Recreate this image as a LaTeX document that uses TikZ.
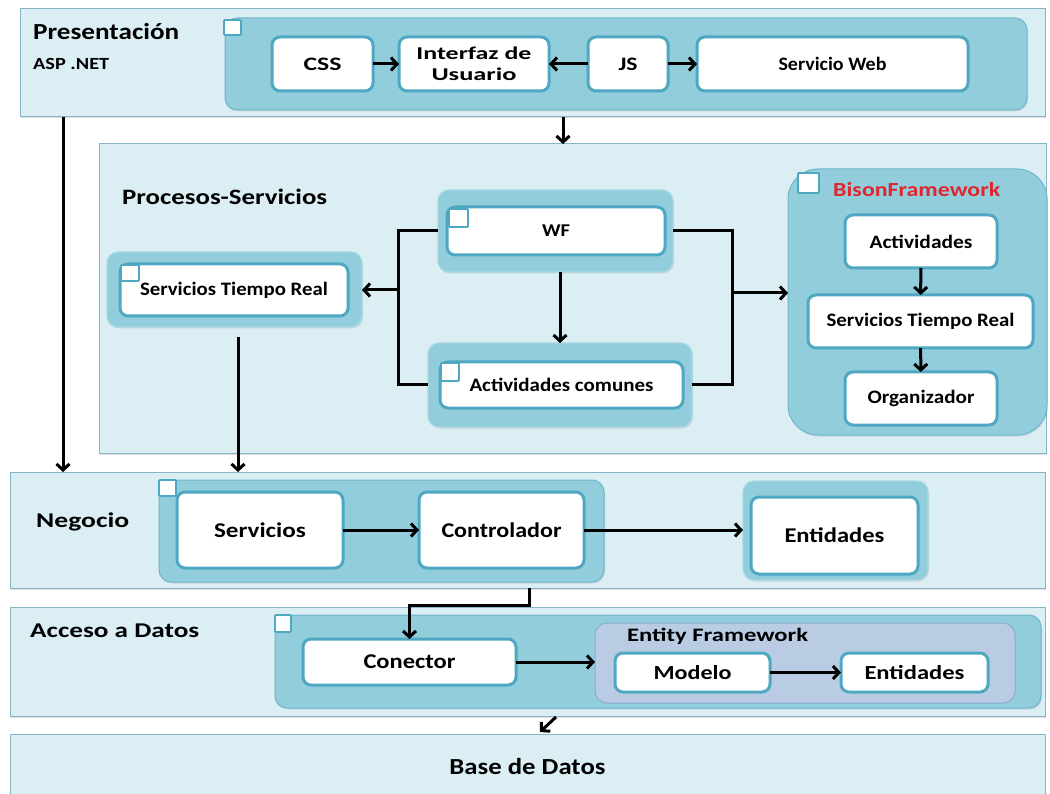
\documentclass[tikz,border=0pt]{standalone}
\usepackage{fontspec}
\setmainfont{Carlito}
\usetikzlibrary{arrows.meta,shadows,calc}

\definecolor{bandfill}{HTML}{DBEEF4}
\definecolor{bandline}{HTML}{86B5C6}
\definecolor{contfill}{HTML}{92CDDC}
\definecolor{contline}{HTML}{6DB6CB}
\definecolor{boxline}{HTML}{4FA8C2}
\definecolor{effill}{HTML}{B9CCE4}
\definecolor{efline}{HTML}{8EABD3}
\definecolor{bisonred}{HTML}{E0262F}

% bold text set at a given size and stretched to a given width
\newcommand\fw[3]{\resizebox{#1pt}{\height}{\fontsize{#2}{#2}\selectfont\bfseries #3}}
% node placed by its corners: style, x1, y1, x2, y2, name, text
\newcommand\placebox[7]{\node[#1, minimum width={(#4)-(#2)}, minimum height={(#5)-(#3)}] (#6) at ({((#2)+(#4))/2},{((#3)+(#5))/2}) {#7};}

\begin{document}
\begin{tikzpicture}[x=1pt,y=-1pt,
  base/.style={rectangle, inner sep=0pt, outer sep=0pt},
  band/.style={base, fill=bandfill, draw=bandline, line width=1pt,
    drop shadow={shadow xshift=1pt, shadow yshift=-1.5pt, opacity=.25}},
  cont/.style={base, fill=contfill, draw=contline, line width=1pt, rounded corners=12pt,
    drop shadow={shadow xshift=1pt, shadow yshift=-1.5pt, opacity=.2}},
  cont2/.style={base, fill=contfill, draw=contfill!80!white, line width=1.2pt, rounded corners=11pt,
    drop shadow={shadow xshift=1pt, shadow yshift=-1.5pt, opacity=.2}},
  bisonst/.style={base, fill=contfill, draw=contline, line width=1pt, rounded corners=30pt,
    drop shadow={shadow xshift=1pt, shadow yshift=-1.5pt, opacity=.2}},
  efst/.style={base, fill=effill, draw=efline, line width=1pt, rounded corners=12pt},
  wbox/.style={base, fill=white, draw=boxline, line width=3pt, rounded corners=8pt},
  sq/.style={base, fill=white, draw=boxline, line width=1.8pt, rounded corners=1pt},
  lbl/.style={anchor=base west, inner sep=0pt},
  ln/.style={line width=3pt, line join=miter},
  arr/.style={ln, -{Straight Barb[length=6pt,width=13pt]}}
]
\useasboundingbox (0,0) rectangle (1050,794);
\clip (0,0) rectangle (1050,794);

% layer bands
\placebox{band}{20}{9}{1045}{117}{pres}{}
\placebox{band}{99}{144}{1046}{453}{proc}{}
\placebox{band}{10}{472}{1045}{588}{neg}{}
\placebox{band}{10}{607}{1045}{716}{acc}{}
\placebox{band}{10}{734}{1045}{800}{bd}{\fw{156}{23}{Base de Datos}}

% Presentacion layer
\node[lbl] (presl) at (33,40) {\fw{146}{23}{Presentación}};
\node[lbl] (aspl) at (33,70) {\fw{76}{17}{ASP .NET}};
\placebox{cont}{225}{18}{1027}{110}{tc}{}
\placebox{sq}{224}{20}{241}{35}{tcsq}{}
\placebox{wbox}{272}{37}{373}{91}{css}{\fw{38}{19}{CSS}}
\placebox{wbox}{399}{37}{549}{91}{ui}{}
\node[inner sep=0pt, align=center, font=\fontsize{18}{21}\selectfont] (uil) at (ui) {\fw{115}{18}{Interfaz de}\\\fw{85}{18}{Usuario}};
\placebox{wbox}{588}{37}{668}{91}{js}{\fw{19}{19}{JS}}
\placebox{wbox}{697}{37}{968}{91}{sw}{\fw{108}{19}{Servicio Web}}
\draw[arr] (css) -- (ui);
\draw[arr] (js) -- (ui);
\draw[arr] (js) -- (sw);

% Procesos-Servicios layer
\node[lbl] (procl) at (122,205) {\fw{205}{22}{Procesos-Servicios}};
\placebox{cont2}{438}{190}{673}{272}{wfo}{}
\placebox{wbox}{447}{207}{665}{255}{wf}{\fw{28}{18}{WF}}
\placebox{sq}{449}{209}{468}{227}{wfsq}{}
\placebox{cont2}{107}{252}{362}{327}{stro}{}
\placebox{wbox}{120}{264}{348}{316}{str}{\fw{188}{19}{Servicios Tiempo Real}}
\placebox{sq}{121}{265}{139}{281}{strsq}{}
\placebox{cont2}{428}{343}{692}{427}{aco}{}
\placebox{wbox}{440}{362}{683}{408}{ac}{\fw{184}{19}{Actividades comunes}}
\placebox{sq}{441}{363}{459}{381}{acsq}{}

\placebox{bisonst}{788}{169}{1047}{435}{bison}{}
\placebox{sq}{798}{173}{819}{193}{bisonsq}{}
\node[lbl] (bisonl) at (833,197) {\color{bisonred}\fw{167}{20}{BisonFramework}};
\placebox{wbox}{845}{215}{997}{268}{act}{\fw{103}{19}{Actividades}}
\placebox{wbox}{808}{295}{1033}{348}{str2}{\fw{188}{19}{Servicios Tiempo Real}}
\placebox{wbox}{845}{372}{997}{425}{org}{\fw{107}{19}{Organizador}}
\draw[arr] (act) -- (str2);
\draw[arr] (str2) -- (org);

% WF fan-out
\coordinate (jl) at (398,290);
\coordinate (jr) at (732,293);
\draw[ln] (wfo.west) -| (jl) |- (aco.west);
\draw[arr] (jl) -- (jl -| stro.east);
\draw[ln] (wfo.east) -| (jr) |- (aco.east);
\draw[arr] (jr) -- (jr -| bison.west);
\draw[arr] (aco.north |- wfo.south) -- (aco.north);

% links between layers
\coordinate (t1) at (563,117);
\draw[arr] (t1) -- (t1 |- proc.north);
\coordinate (l1) at (63,117);
\draw[arr] (l1) -- (l1 |- neg.north);
\coordinate (s1) at (238,337);
\draw[arr] (s1) -- (s1 |- neg.north);

% Negocio layer
\node[lbl] (negl) at (36,527) {\fw{93}{21}{Negocio}};
\placebox{cont}{159}{480}{604}{582}{nc}{}
\placebox{sq}{159}{480}{176}{496}{ncsq}{}
\placebox{wbox}{177}{492}{343}{568}{serv}{\fw{92}{21}{Servicios}}
\placebox{wbox}{419}{492}{584}{568}{ctrl}{\fw{120}{21}{Controlador}}
\placebox{cont2}{743}{481}{928}{580}{ento}{}
\placebox{wbox}{751}{497}{918}{574}{ent}{\fw{100}{21}{Entidades}}
\draw[arr] (serv) -- (ctrl);
\draw[arr] (ctrl) -- (ctrl -| ento.west);

% Acceso a Datos layer
\node[lbl] (accl) at (30,637) {\fw{169}{21}{Acceso a Datos}};
\placebox{cont}{275}{615}{1041}{708}{adc}{}
\placebox{sq}{275}{615}{291}{632}{adsq}{}
\placebox{wbox}{303}{639}{516}{685}{con}{\fw{92}{21}{Conector}}
\placebox{efst}{595}{623}{1015}{703}{ef}{}
\node[lbl] (efl) at (627,641) {\fw{181}{19}{Entity Framework}};
\placebox{wbox}{615}{653}{770}{692}{mod}{\fw{78}{20}{Modelo}}
\placebox{wbox}{841}{653}{988}{692}{ent2}{\fw{100}{20}{Entidades}}
\draw[arr] (con) -- (con -| ef.west);
\draw[arr] (mod) -- (ent2);

\coordinate (c1) at (529,588);
\draw[arr] (c1) -- ++(0,17) -| (con.north);

\coordinate (d1) at (556,717);
\coordinate (d2) at (540,732);
\draw[arr] (d1) -- (d2);
\end{tikzpicture}
\end{document}
